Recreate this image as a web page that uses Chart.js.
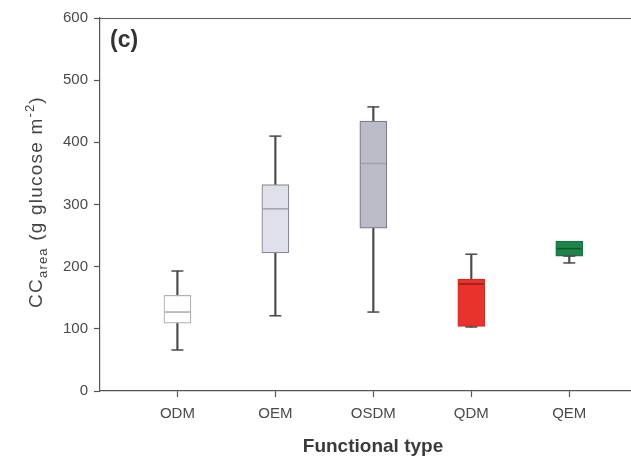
<!DOCTYPE html>
<html>
<head>
<meta charset="utf-8">
<script src="https://cdn.jsdelivr.net/npm/chart.js@4"></script>
<style>
  html, body { margin: 0; padding: 0; background: #fff; overflow: hidden; }
  #wrap { width: 631px; height: 462px; position: relative; }
  canvas { display: block; }
</style>
</head>
<body>
<div id="wrap"><canvas id="boxChart"></canvas></div>
<script>
// Box plot values (g glucose m-2)
const categories = ["ODM", "OEM", "OSDM", "QDM", "QEM"]
const whiskerMin = [66, 121, 127, 103, 206]
const q1 = [109, 222, 262, 104, 217]
const median = [127, 293, 366, 172, 229]
const q3 = [154, 332, 434, 180, 241]
const whiskerMax = [193, 410, 457, 220, 217]
const yTicks = [0, 100, 200, 300, 400, 500, 600]

const boxFill = ["rgba(255,255,255,1)", "#e0e0ea", "#bcbcc8", "#e8332c", "#1d8549"]
const boxEdge = ["#b0b0b0", "#8a8a96", "#7c7c88", "#d42a24", "#1a7040"]
const medianColor = ["#a8a8a8", "#a0a0ac", "#a0a0ac", "#9a1a16", "#0e5a2c"]

const idx = categories.map((c, i) => i)
const FONT = "'Liberation Sans', Arial, sans-serif"

// frame top line, panel letter, x title and the y title with sub/superscript
const extras = {
  id: "extras",
  afterDraw(chart) {
    const { ctx, chartArea } = chart
    ctx.save()
    ctx.strokeStyle = "#555"
    ctx.lineWidth = 1.2
    ctx.beginPath()
    ctx.moveTo(chartArea.left, chartArea.top + 0.5)
    ctx.lineTo(chartArea.right, chartArea.top + 0.5)
    ctx.stroke()

    ctx.fillStyle = "#333"
    ctx.font = "bold 23px " + FONT
    ctx.textBaseline = "alphabetic"
    ctx.fillText("(c)", 110, 47)

    ctx.fillStyle = "#3a3a3a"
    ctx.font = "bold 19px " + FONT
    ctx.textAlign = "center"
    ctx.fillText("Functional type", 373, 452)

    // y axis title
    ctx.fillStyle = "#444"
    ctx.translate(42, 202)
    ctx.rotate(-Math.PI / 2)
    ctx.letterSpacing = "1.2px"
    const parts = [
      { t: "CC", size: 19, dy: 0 },
      { t: "area", size: 13, dy: 5 },
      { t: " (g glucose m", size: 19, dy: 0 },
      { t: "-2", size: 13, dy: -8 },
      { t: ")", size: 19, dy: 0 },
    ]
    let total = 0
    parts.forEach(p => {
      ctx.font = p.size + "px " + FONT
      p.w = ctx.measureText(p.t).width
      total += p.w
    })
    let x = -total / 2
    ctx.textAlign = "left"
    parts.forEach(p => {
      ctx.font = p.size + "px " + FONT
      ctx.fillText(p.t, x, p.dy)
      x += p.w
    })
    ctx.restore()
  },
}

const ctx = document.getElementById("boxChart").getContext("2d")
new Chart(ctx, {
  type: "bar",
  data: {
    datasets: [
      {
        label: "whisker",
        data: idx.map(i => ({ x: i, y: [whiskerMin[i], whiskerMax[i]] })),
        backgroundColor: "#4a4a4a",
        barThickness: 1.5,
        grouped: false,
        order: 3,
      },
      {
        label: "box",
        data: idx.map(i => ({ x: i, y: [q1[i], q3[i]] })),
        backgroundColor: boxFill,
        borderColor: boxEdge,
        borderWidth: 1.2,
        borderSkipped: false,
        barThickness: 27,
        grouped: false,
        order: 2,
      },
      {
        type: "scatter",
        label: "caps",
        data: idx.flatMap(i => [{ x: i, y: whiskerMin[i] }, { x: i, y: whiskerMax[i] }]),
        pointStyle: "line",
        radius: 6,
        borderColor: "#4a4a4a",
        borderWidth: 1.5,
        order: 1,
      },
      {
        type: "scatter",
        label: "median",
        data: idx.map(i => ({ x: i, y: median[i] })),
        pointStyle: "line",
        radius: 12.5,
        borderColor: medianColor,
        borderWidth: 1.5,
        order: 1,
      },
    ],
  },
  options: {
    responsive: true,
    maintainAspectRatio: false,
    animation: false,
    layout: { autoPadding: false, padding: { top: 18, right: 0, left: 0, bottom: 0 } },
    scales: {
      x: {
        type: "linear",
        min: -0.79,
        max: 4.63,
        offset: false,
        afterBuildTicks: (axis) => {
          axis.ticks = idx.map(v => ({ value: v }))
        },
        afterFit: (scale) => {
          scale.height = 71
          scale.paddingRight = 0
        },
        grid: { offset: false, drawOnChartArea: false, tickLength: 6, color: "#555", tickWidth: 1.2 },
        border: { color: "#555", width: 1.2 },
        ticks: {
          color: "#4a4a4a",
          font: { size: 15, family: FONT },
          padding: 8,
          callback: (v) => categories[v],
        },
      },
      y: {
        min: 0,
        max: 600,
        afterBuildTicks: (axis) => {
          axis.ticks = yTicks.map(v => ({ value: v }))
        },
        afterFit: (scale) => {
          scale.width = 100
        },
        grid: { drawOnChartArea: false, tickLength: 6, color: "#555", tickWidth: 1.2 },
        border: { color: "#555", width: 1.2 },
        ticks: {
          color: "#4a4a4a",
          font: { size: 15, family: FONT },
          padding: 6,
        },
      },
    },
    plugins: {
      legend: { display: false },
      tooltip: { enabled: false },
    },
  },
  plugins: [extras],
})
</script>
</body>
</html>
